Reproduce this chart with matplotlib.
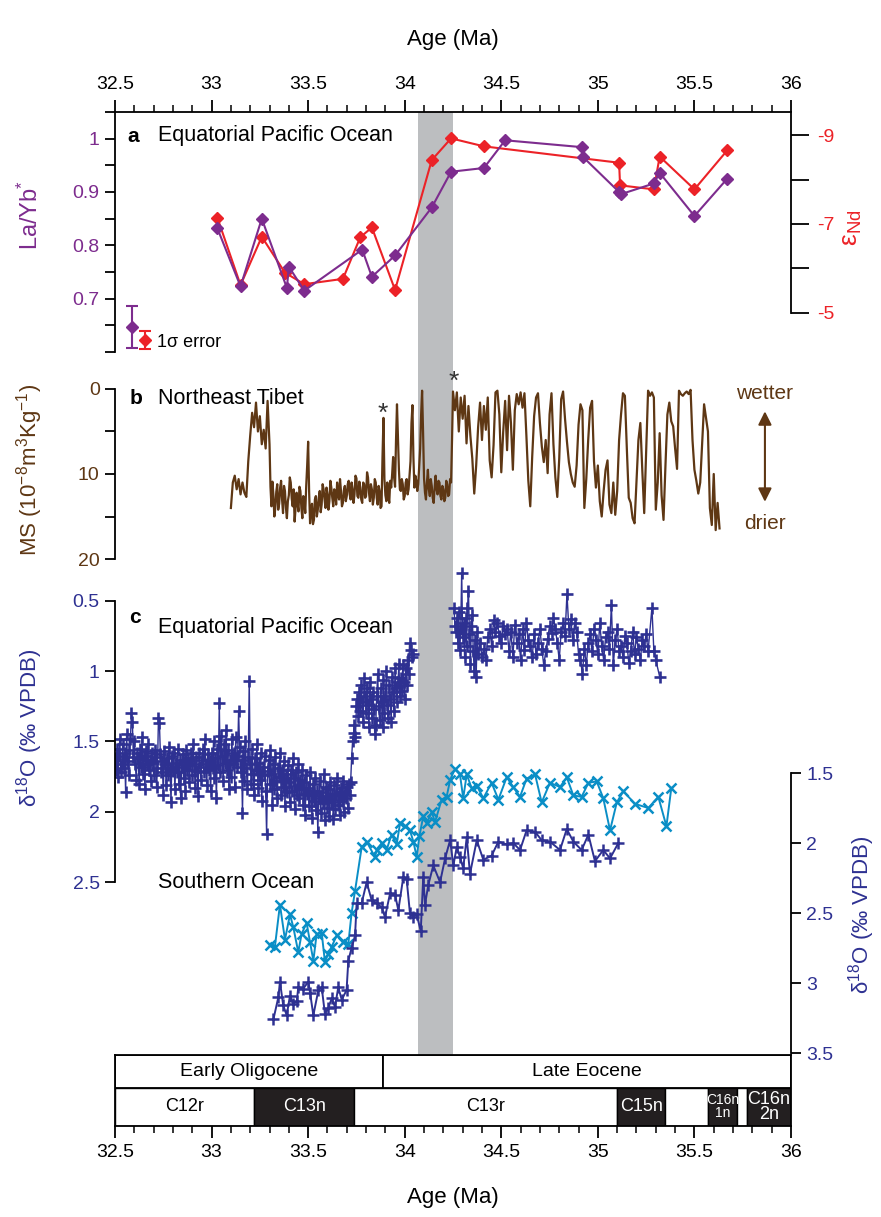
import numpy as np
import matplotlib.pyplot as plt
from matplotlib.patches import Rectangle

plt.rcParams['font.family'] = ['Liberation Sans', 'DejaVu Sans']
plt.rcParams['mathtext.fontset'] = 'custom'
plt.rcParams['mathtext.rm'] = 'Liberation Sans'
plt.rcParams['mathtext.it'] = 'Liberation Sans:italic'
plt.rcParams['axes.linewidth'] = 1.3

PURPLE = '#7d2c8e'
RED = '#ec2227'
BROWN = '#5e3714'
NAVY = '#2e3192'
CYAN = '#0a8ec6'
GREY = '#bcbec0'

# ---- a: Equatorial Pacific, La/Yb* and eNd
layb_age = [33.03, 33.15, 33.26, 33.39, 33.40, 33.48, 33.78, 33.83, 33.95, 34.14, 34.24,
            34.41, 34.52, 34.92, 34.925, 35.11, 35.12, 35.29, 35.32, 35.50, 35.67]
layb = [0.832, 0.723, 0.850, 0.720, 0.760, 0.715, 0.792, 0.741, 0.781, 0.871, 0.938,
        0.945, 0.997, 0.984, 0.965, 0.900, 0.896, 0.916, 0.936, 0.855, 0.925]
end_age = [33.03, 33.15, 33.26, 33.38, 33.48, 33.68, 33.77, 33.83, 33.95, 34.14, 34.24,
           34.41, 35.11, 35.115, 35.29, 35.32, 35.50, 35.67]
end_val = [-7.14, -5.62, -6.71, -5.90, -5.64, -5.76, -6.70, -6.92, -5.51, -8.44, -8.93,
           -8.75, -8.38, -7.87, -7.78, -8.52, -7.78, -8.66]
err_age = [32.586, 32.655]
err_val = [0.647, -4.38]
err_sd = [0.04, 0.2]

# ---- b: Northeast Tibet magnetic susceptibility
ms_age = [
    33.10, 33.11, 33.12, 33.13, 33.14, 33.15, 33.16, 33.17, 33.18, 33.19,
    33.20, 33.21, 33.22, 33.23, 33.24, 33.25, 33.26, 33.27, 33.28, 33.29,
    33.300, 33.305, 33.310, 33.315, 33.320, 33.325, 33.330, 33.335, 33.340, 33.345,
    33.350, 33.355, 33.360, 33.365, 33.370, 33.375, 33.380, 33.385, 33.390, 33.395,
    33.400, 33.405, 33.410, 33.415, 33.420, 33.425, 33.430, 33.435, 33.440, 33.445,
    33.450, 33.455, 33.460, 33.465, 33.470, 33.475, 33.480, 33.485, 33.490, 33.495,
    33.500, 33.505, 33.510, 33.515, 33.520, 33.525, 33.530, 33.535, 33.540, 33.545,
    33.550, 33.555, 33.560, 33.565, 33.570, 33.575, 33.580, 33.585, 33.590, 33.595,
    33.600, 33.605, 33.610, 33.615, 33.620, 33.625, 33.630, 33.635, 33.640, 33.645,
    33.650, 33.655, 33.660, 33.665, 33.670, 33.675, 33.680, 33.685, 33.690, 33.695,
    33.700, 33.705, 33.710, 33.715, 33.720, 33.725, 33.730, 33.735, 33.740, 33.745,
    33.750, 33.755, 33.760, 33.765, 33.770, 33.775, 33.780, 33.785, 33.790, 33.795,
    33.800, 33.805, 33.810, 33.815, 33.820, 33.825, 33.830, 33.835, 33.840, 33.845,
    33.850, 33.855, 33.860, 33.865, 33.870, 33.875, 33.880, 33.885, 33.890, 33.895,
    33.900, 33.905, 33.910, 33.915, 33.920, 33.925, 33.930, 33.935, 33.940, 33.945,
    33.950, 33.955, 33.960, 33.965, 33.970, 33.975, 33.980, 33.985, 33.990, 33.995,
    34.000, 34.005, 34.010, 34.015, 34.020, 34.025, 34.030, 34.035, 34.040, 34.045,
    34.050, 34.055, 34.060, 34.065, 34.070, 34.075, 34.080, 34.085, 34.090, 34.095,
    34.100, 34.105, 34.110, 34.115, 34.120, 34.125, 34.130, 34.135, 34.140, 34.145,
    34.150, 34.155, 34.160, 34.165, 34.170, 34.175, 34.180, 34.185, 34.190, 34.195,
    34.200, 34.205, 34.210, 34.215, 34.220, 34.225, 34.230, 34.235, 34.240, 34.245,
    34.25, 34.26, 34.27, 34.28, 34.29,
    34.30, 34.31, 34.32, 34.33, 34.34, 34.35, 34.36, 34.37, 34.38, 34.39,
    34.40, 34.41, 34.42, 34.43, 34.44, 34.45, 34.46, 34.47, 34.48, 34.49,
    34.50, 34.51, 34.52, 34.53, 34.54, 34.55, 34.56, 34.57, 34.58, 34.59,
    34.60, 34.61, 34.62, 34.63, 34.64, 34.65, 34.66, 34.67, 34.68, 34.69,
    34.70, 34.71, 34.72, 34.73, 34.74, 34.75, 34.76, 34.77, 34.78, 34.79,
    34.80, 34.81, 34.82, 34.83, 34.84, 34.85, 34.86, 34.87, 34.88, 34.89,
    34.90, 34.91, 34.92, 34.93, 34.94, 34.95, 34.96, 34.97, 34.98, 34.99,
    35.00, 35.01, 35.02, 35.03, 35.04, 35.05, 35.06, 35.07, 35.08, 35.09,
    35.10, 35.11, 35.12, 35.13, 35.14, 35.15, 35.16, 35.17, 35.18, 35.19,
    35.20, 35.21, 35.22, 35.23, 35.24, 35.25, 35.26, 35.27, 35.28, 35.29,
    35.30, 35.31, 35.32, 35.33, 35.34, 35.35, 35.36, 35.37, 35.38, 35.39,
    35.40, 35.41, 35.42, 35.43, 35.44, 35.45, 35.46, 35.47, 35.48, 35.49,
    35.50, 35.51, 35.52, 35.53, 35.54, 35.55, 35.56, 35.57, 35.58, 35.59,
    35.60, 35.61, 35.62, 35.63]
ms_val = [
    14.0, 11.0, 10.2, 11.8, 10.6, 12.4, 11.0, 12.2, 12.7, 8.5,
    5.5, 2.8, 4.5, 1.6, 5.0, 3.2, 6.5, 4.8, 7.0, 1.4,
    6.5, 11.5, 13.8, 10.9, 12.4, 15.0, 14.0, 12.1, 11.2, 14.2,
    13.5, 11.6, 10.8, 13.0, 14.6, 11.4, 12.0, 14.0, 15.2, 13.2,
    12.5, 10.4, 11.0, 12.9, 13.8, 11.8, 15.6, 14.0, 12.2, 13.5,
    14.4, 11.5, 12.0, 14.0, 15.2, 12.6, 13.0, 14.6, 11.4, 9.0,
    6.2, 12.0, 15.8, 14.2, 13.5, 15.9, 15.4, 13.0, 12.6, 15.0,
    14.2, 12.8, 12.0, 14.5, 13.6, 11.2, 11.8, 13.0, 14.0, 11.6,
    12.4, 14.2, 13.2, 10.8, 11.6, 12.8, 13.8, 11.8, 12.2, 13.6,
    11.0, 12.4, 13.0, 10.6, 12.0, 13.8, 13.4, 11.9, 11.4, 13.2,
    12.6, 11.2, 10.8, 12.4, 13.0, 11.0, 11.8, 13.4, 12.4, 10.2,
    10.5, 12.6, 12.8, 10.9, 11.6, 13.0, 13.4, 11.0, 11.2, 12.8,
    12.6, 9.8, 10.4, 12.2, 13.2, 11.2, 11.8, 13.6, 12.8, 10.6,
    11.0, 12.8, 13.6, 11.4, 12.0, 14.0, 13.8, 8.0, 3.4, 10.6,
    12.5, 13.2, 11.0, 12.6, 13.4, 10.8, 11.6, 10.0, 8.0, 10.4,
    11.5, 6.0, 1.8, 5.5, 9.5, 11.8, 12.0, 10.6, 11.2, 13.0,
    12.6, 11.0, 10.6, 12.4, 11.8, 10.2, 8.5, 4.0, 1.9, 8.0,
    11.6, 10.2, 10.8, 12.0, 11.2, 9.0, 7.0, 3.0, 0.2, 5.0,
    10.5, 12.2, 13.0, 11.0, 9.5, 11.8, 12.6, 10.6, 11.4, 12.8,
    13.4, 11.6, 10.2, 11.8, 12.4, 10.8, 11.0, 12.6, 13.0, 11.4,
    11.8, 13.2, 12.8, 10.8, 11.2, 12.6, 12.4, 10.6, 11.0, 6.0,
    0.3, 2.5, 0.4, 5.0, 1.0,
    3.5, 0.8, 6.4, 2.0, 5.5, 8.2, 12.3, 9.0, 4.5, 1.6,
    6.0, 2.0, 4.8, 1.0, 8.4, 10.4, 6.6, 0.4, 0.2, 3.0,
    9.8, 5.0, 1.4, 7.2, 0.8, 4.0, 9.5, 2.5, 0.6, 1.8,
    0.4, 2.2, 0.5, 5.5, 10.8, 13.8, 8.0, 3.2, 1.0, 0.5,
    4.0, 6.8, 8.6, 6.0, 9.9, 3.0, 0.5, 6.5, 10.4, 12.7,
    8.2, 1.2, 0.3, 3.5, 6.2, 8.6, 10.0, 11.0, 11.5, 9.0,
    4.2, 1.8, 2.5, 14.0, 10.6, 6.0, 2.2, 1.4, 8.5, 11.6,
    9.0, 13.2, 15.0, 12.0, 9.5, 8.4, 13.6, 14.6, 11.0, 14.8,
    12.0, 6.0, 3.0, 0.5, 0.8, 7.0, 12.8, 13.4, 15.2, 15.8,
    11.0, 6.0, 4.0, 9.5, 14.6, 7.5, 0.2, 0.8, 0.4, 1.0,
    14.2, 11.0, 5.2, 12.5, 15.4, 9.0, 3.0, 1.6, 3.8, 4.4,
    7.0, 9.4, 0.2, 0.6, 0.8, 0.5, 0.3, 0.6, 0.1, 6.0,
    9.5, 10.8, 12.3, 11.0, 6.5, 1.8, 3.4, 5.0, 14.0, 16.0,
    10.0, 16.6, 13.4, 16.4]

# ---- c: d18O, Equatorial Pacific (left axis), Oligocene + latest Eocene part
eqp1_age = [
    32.500, 32.505, 32.510, 32.515, 32.520, 32.525, 32.530, 32.535, 32.540, 32.545,
    32.550, 32.555, 32.560, 32.565, 32.570, 32.575, 32.580, 32.585, 32.590, 32.595,
    32.600, 32.605, 32.610, 32.615, 32.620, 32.625, 32.630, 32.635, 32.640, 32.645,
    32.650, 32.655, 32.660, 32.665, 32.670, 32.675, 32.680, 32.685, 32.690, 32.695,
    32.700, 32.705, 32.710, 32.715, 32.720, 32.725, 32.730, 32.735, 32.740, 32.745,
    32.750, 32.755, 32.760, 32.765, 32.770, 32.775, 32.780, 32.785, 32.790, 32.795,
    32.800, 32.805, 32.810, 32.815, 32.820, 32.825, 32.830, 32.835, 32.840, 32.845,
    32.850, 32.855, 32.860, 32.865, 32.870, 32.875, 32.880, 32.885, 32.890, 32.895,
    32.900, 32.905, 32.910, 32.915, 32.920, 32.925, 32.930, 32.935, 32.940, 32.945,
    32.950, 32.955, 32.960, 32.965, 32.970, 32.975, 32.980, 32.985, 32.990, 32.995,
    33.000, 33.005, 33.010, 33.015, 33.020, 33.025, 33.030, 33.035, 33.040, 33.045,
    33.050, 33.055, 33.060, 33.065, 33.070, 33.075, 33.080, 33.085, 33.090, 33.095,
    33.100, 33.105, 33.110, 33.115, 33.120, 33.125, 33.130, 33.135, 33.140, 33.145,
    33.150, 33.155, 33.160, 33.165, 33.170, 33.175, 33.180, 33.185, 33.190, 33.195,
    33.200, 33.205, 33.210, 33.215, 33.220, 33.225, 33.230, 33.235, 33.240, 33.245,
    33.250, 33.255, 33.260, 33.265, 33.270, 33.275, 33.280, 33.285, 33.290, 33.295,
    33.300, 33.305, 33.310, 33.315, 33.320, 33.325, 33.330, 33.335, 33.340, 33.345,
    33.350, 33.355, 33.360, 33.365, 33.370, 33.375, 33.380, 33.385, 33.390, 33.395,
    33.400, 33.405, 33.410, 33.415, 33.420, 33.425, 33.430, 33.435, 33.440, 33.445,
    33.450, 33.455, 33.460, 33.465, 33.470, 33.475, 33.480, 33.485, 33.490, 33.495,
    33.500, 33.505, 33.510, 33.515, 33.520, 33.525, 33.530, 33.535, 33.540, 33.545,
    33.550, 33.555, 33.560, 33.565, 33.570, 33.575, 33.580, 33.585, 33.590, 33.595,
    33.600, 33.605, 33.610, 33.615, 33.620, 33.625, 33.630, 33.635, 33.640, 33.645,
    33.650, 33.655, 33.660, 33.665, 33.670, 33.675, 33.680, 33.685, 33.690, 33.695,
    33.700, 33.705, 33.710, 33.715, 33.720,
    33.725, 33.730, 33.735, 33.740, 33.745, 33.750, 33.755, 33.760, 33.765, 33.770,
    33.775, 33.780, 33.785, 33.790, 33.795, 33.800, 33.805, 33.810, 33.815, 33.820,
    33.825, 33.830, 33.835, 33.840, 33.845, 33.850, 33.855, 33.860, 33.865, 33.870,
    33.875, 33.880, 33.885, 33.890, 33.895, 33.900, 33.905, 33.910, 33.915, 33.920,
    33.925, 33.930, 33.935, 33.940, 33.945, 33.950, 33.955, 33.960, 33.965, 33.970,
    33.975, 33.980, 33.985, 33.990, 33.995, 34.000, 34.005, 34.010, 34.015, 34.020,
    34.025, 34.030, 34.040, 34.045]
eqp1 = [
    1.62, 1.70, 1.55, 1.75, 1.60, 1.48, 1.72, 1.66, 1.52, 1.69,
    1.58, 1.86, 1.45, 1.64, 1.74, 1.56, 1.48, 1.30, 1.36, 1.61,
    1.50, 1.66, 1.77, 1.58, 1.62, 1.80, 1.55, 1.68, 1.47, 1.73,
    1.60, 1.84, 1.57, 1.66, 1.52, 1.70, 1.63, 1.78, 1.58, 1.65,
    1.74, 1.56, 1.61, 1.82, 1.69, 1.33, 1.37, 1.59, 1.72, 1.64,
    1.88, 1.57, 1.66, 1.81, 1.62, 1.74, 1.54, 1.69, 1.93, 1.60,
    1.71, 1.58, 1.84, 1.65, 1.72, 1.55, 1.80, 1.63, 1.90, 1.68,
    1.59, 1.76, 1.64, 1.85, 1.56, 1.70, 1.62, 1.79, 1.67, 1.58,
    1.74, 1.52, 1.66, 1.83, 1.61, 1.71, 1.89, 1.58, 1.68, 1.77,
    1.63, 1.55, 1.72, 1.48, 1.66, 1.81, 1.59, 1.70, 1.64, 1.85,
    1.58, 1.69, 1.50, 1.76, 1.62, 1.90, 1.55, 1.67, 1.23, 1.72,
    1.46, 1.60, 1.78, 1.52, 1.65, 1.42, 1.70, 1.56, 1.84, 1.63,
    1.75, 1.48, 1.66, 1.58, 1.82, 1.47, 1.68, 1.60, 1.28, 1.54,
    1.72, 1.63, 2.01, 1.57, 1.78, 1.50, 1.69, 1.84, 1.61, 1.07,
    1.66, 1.80, 1.55, 1.73, 1.88, 1.62, 1.70, 1.52, 1.83, 1.65,
    1.77, 1.58, 1.92, 1.68, 1.74, 1.60, 1.85, 2.16, 1.71, 1.63,
    1.80, 1.56, 1.73, 1.95, 1.66, 1.84, 1.61, 1.78, 1.90, 1.69,
    1.75, 1.58, 1.88, 1.70, 1.82, 1.64, 1.96, 1.73, 1.86, 1.67,
    1.79, 1.93, 1.70, 1.85, 1.62, 1.76, 1.98, 1.72, 1.88, 1.81,
    1.66, 1.90, 1.77, 1.84, 1.70, 1.95, 1.79, 2.02, 1.74, 1.87,
    1.83, 1.96, 1.72, 1.88, 2.04, 1.80, 1.92, 1.76, 1.99, 1.85,
    2.14, 1.90, 1.78, 2.01, 1.86, 1.94, 1.73, 2.06, 1.89, 1.82,
    1.97, 1.84, 2.03, 1.79, 1.93, 1.87, 2.05, 1.81, 1.98, 1.88,
    1.76, 1.95, 1.86, 2.02, 1.83, 1.92, 1.78, 2.00, 1.85, 1.90,
    1.82, 1.97, 1.80, 1.88, 1.79,
    1.62, 1.50, 1.44, 1.38, 1.47, 1.25, 1.20, 1.32, 1.15, 1.28,
    1.10, 1.22, 1.36, 1.05, 1.18, 1.30, 1.12, 1.24, 1.40, 1.08,
    1.20, 1.33, 1.15, 1.27, 1.45, 1.38, 1.18, 1.02, 1.25, 1.35,
    1.12, 1.22, 1.40, 1.06, 1.30, 1.18, 1.00, 1.24, 1.33, 1.10,
    1.20, 1.36, 1.04, 1.15, 1.28, 0.98, 1.12, 1.22, 1.08, 0.95,
    1.18, 1.05, 1.14, 0.96, 1.08, 1.20, 0.98, 1.10, 0.92, 1.02,
    0.80, 0.85, 0.90, 0.88]

# Equatorial Pacific, late Eocene part
eqp2_age = [
    34.255, 34.260, 34.265, 34.270, 34.275, 34.280, 34.285, 34.290, 34.295, 34.300,
    34.305, 34.310, 34.315, 34.320, 34.325, 34.330, 34.335, 34.340, 34.345, 34.350,
    34.355, 34.360, 34.365, 34.370, 34.375,
    34.38, 34.39, 34.40, 34.41, 34.42, 34.43, 34.44, 34.45, 34.46, 34.47,
    34.48, 34.49, 34.50, 34.51, 34.52, 34.53, 34.54, 34.55, 34.56, 34.57,
    34.58, 34.59, 34.60, 34.61, 34.62, 34.63, 34.64, 34.65, 34.66, 34.67,
    34.68, 34.69, 34.70, 34.71, 34.72, 34.73, 34.74, 34.75, 34.76, 34.77,
    34.78, 34.79, 34.80, 34.81, 34.82, 34.83, 34.84, 34.85, 34.86, 34.87,
    34.88, 34.89, 34.90, 34.91, 34.92, 34.93, 34.94, 34.95, 34.96, 34.97,
    34.98, 34.99, 35.00, 35.01, 35.02, 35.03, 35.04, 35.05, 35.06, 35.07,
    35.08, 35.09, 35.10, 35.11, 35.12, 35.13, 35.14, 35.15, 35.16, 35.17,
    35.18, 35.19, 35.20, 35.21, 35.22, 35.23, 35.24, 35.25, 35.26,
    35.28, 35.29, 35.30, 35.32]
eqp2 = [
    0.55, 0.68, 0.72, 0.62, 0.80, 0.58, 0.85, 0.70, 0.30, 0.76,
    0.66, 0.90, 0.62, 0.82, 0.55, 0.43, 0.74, 0.95, 0.68, 0.60,
    0.86, 1.00, 0.78, 1.04, 0.72,
    0.88, 0.80, 0.90, 0.84, 0.92, 0.76, 0.70, 0.82, 0.64, 0.72,
    0.66, 0.75, 0.80, 0.68, 0.74, 0.70, 0.86, 0.72, 0.90, 0.67,
    0.80, 0.74, 0.92, 0.70, 0.85, 0.66, 0.78, 0.82, 0.90, 0.74,
    0.88, 0.80, 0.70, 0.84, 0.96, 0.86, 0.77, 0.68, 0.73, 0.62,
    0.70, 0.80, 0.92, 0.72, 0.66, 0.75, 0.45, 0.70, 0.63, 0.78,
    0.66, 0.72, 0.88, 0.92, 1.02, 0.84, 0.96, 0.80, 0.74, 0.86,
    0.70, 0.78, 0.88, 0.66, 0.82, 0.92, 0.76, 0.72, 0.84, 0.53,
    0.96, 0.78, 0.70, 0.86, 0.82, 0.90, 0.75, 0.80, 0.94, 0.86,
    0.72, 0.88, 0.76, 0.84, 0.92, 0.78, 0.82, 0.74, 0.86,
    0.55, 0.86, 0.92, 1.04]

# Southern Ocean (right axis): light blue crosses
soc_age = [33.302, 33.328, 33.354, 33.380, 33.406, 33.423, 33.449, 33.466, 33.492, 33.510,
           33.527, 33.544, 33.570, 33.587, 33.604, 33.622, 33.648, 33.682, 33.708, 33.725,
           33.743, 33.777, 33.803, 33.846, 33.855, 33.881, 33.906, 33.932, 33.958, 33.976,
           34.001, 34.027, 34.045, 34.062, 34.076, 34.096, 34.114, 34.140, 34.157, 34.191,
           34.217, 34.235, 34.260, 34.286, 34.303, 34.321, 34.347, 34.373, 34.407, 34.450,
           34.485, 34.528, 34.562, 34.597, 34.631, 34.675, 34.709, 34.752, 34.804, 34.839,
           34.873, 34.916, 34.951, 34.994, 35.028, 35.063, 35.098, 35.132, 35.192, 35.261,
           35.313, 35.355, 35.380]
soc = [2.73, 2.74, 2.44, 2.69, 2.51, 2.60, 2.78, 2.65, 2.57, 2.71,
       2.84, 2.65, 2.64, 2.85, 2.79, 2.74, 2.66, 2.71, 2.72, 2.50,
       2.34, 2.03, 1.99, 2.10, 2.05, 2.00, 2.05, 1.94, 2.01, 1.86,
       1.88, 1.91, 1.99, 2.10, 1.95, 1.81, 1.86, 1.78, 1.85, 1.69,
       1.67, 1.55, 1.47, 1.51, 1.68, 1.51, 1.61, 1.59, 1.68, 1.57,
       1.69, 1.53, 1.60, 1.67, 1.54, 1.51, 1.71, 1.57, 1.60, 1.53,
       1.66, 1.67, 1.57, 1.56, 1.68, 1.91, 1.71, 1.63, 1.72, 1.75,
       1.67, 1.88, 1.61]

# Southern Ocean (right axis): navy plus signs
son_age = [33.320, 33.346, 33.354, 33.371, 33.389, 33.406, 33.423, 33.441, 33.449, 33.475,
           33.501, 33.510, 33.527, 33.553, 33.570, 33.587, 33.604, 33.622, 33.639, 33.656,
           33.674, 33.699, 33.708, 33.725, 33.743, 33.751, 33.777, 33.803, 33.829, 33.855,
           33.881, 33.898, 33.924, 33.950, 33.967, 33.993, 34.010, 34.027, 34.045, 34.062,
           34.083, 34.096, 34.105, 34.122, 34.148, 34.183, 34.209, 34.235, 34.252, 34.269,
           34.286, 34.303, 34.321, 34.338, 34.373, 34.407, 34.450, 34.485, 34.528, 34.562,
           34.597, 34.631, 34.675, 34.709, 34.752, 34.804, 34.839, 34.873, 34.916, 34.951,
           34.985, 35.028, 35.063, 35.106]
son = [3.26, 3.10, 2.99, 3.16, 3.23, 3.09, 3.15, 3.13, 3.03, 3.04,
       2.99, 3.07, 3.23, 3.05, 3.03, 3.22, 3.18, 3.11, 3.17, 3.03,
       3.12, 3.05, 2.84, 2.75, 2.66, 2.43, 2.43, 2.28, 2.41, 2.43,
       2.46, 2.53, 2.36, 2.37, 2.48, 2.24, 2.26, 2.50, 2.53, 2.51,
       2.63, 2.24, 2.44, 2.30, 2.16, 2.28, 2.11, 1.98, 2.16, 2.03,
       2.10, 2.18, 1.96, 2.22, 1.98, 2.12, 2.09, 1.99, 2.01, 2.00,
       2.05, 1.91, 1.92, 1.98, 1.99, 2.05, 1.90, 1.99, 2.05, 1.94,
       2.13, 2.05, 2.11, 2.00]

# ---- timescale
epoch_edges = [32.5, 33.89, 36.0]
epoch_names = ['Early Oligocene', 'Late Eocene']
chron_edges = [32.5, 33.22, 33.74, 35.10, 35.35, 35.57, 35.72, 35.77, 36.0]
chron_names = ['C12r', 'C13n', 'C13r', 'C15n', '', 'C16n\n1n', '', 'C16n\n2n']
chron_black = [False, True, False, True, False, True, False, True]
eot_band = (34.07, 34.25)

W, H = 881, 1217
X0, X1 = 115, 791
TOP = 112
XL = (32.5, 36.0)


def box(x0, y0, x1, y1):
    return [x0 / W, 1 - y1 / H, (x1 - x0) / W, (y1 - y0) / H]


def ftext(x, y, s, **kw):
    fig.text(x / W, 1 - y / H, s, **kw)


fig = plt.figure(figsize=(W / 100, H / 100), dpi=100)

# grey band behind everything
bg = fig.add_axes(box(X0, TOP, X1, 1055))
bg.set_xlim(XL)
bg.axis('off')
bg.axvspan(*eot_band, color=GREY, lw=0)

major = np.arange(32.5, 36.01, 0.5)
minor = np.arange(32.5, 36.01, 0.1)
major_lbl = ['32.5', '33', '33.5', '34', '34.5', '35', '35.5', '36']

# ---------------- panel a
ax = fig.add_axes(box(X0, TOP, X1, 352))
axr = ax.twinx()
ax.set_zorder(axr.get_zorder() + 1)
ax.patch.set_visible(False)
axr.patch.set_visible(False)

ax.set_xlim(XL)
ax.set_ylim(0.6, 1.05)
ax.spines['bottom'].set_visible(False)
ax.spines['right'].set_visible(False)
ax.xaxis.tick_top()
ax.set_xticks(major)
ax.set_xticklabels(major_lbl)
ax.set_xticks(minor, minor=True)
ax.tick_params(axis='x', which='major', length=8.5, width=1.3, labelsize=14, pad=5)
ax.tick_params(axis='x', which='minor', length=5, width=1.1)
ax.set_yticks(np.arange(0.6, 1.051, 0.05))
ax.set_yticklabels(['', '', '0.7', '', '0.8', '', '0.9', '', '1', ''])
ax.tick_params(axis='y', length=7.5, width=1.3, labelsize=14, labelcolor=PURPLE)
ax.plot(layb_age, layb, color=PURPLE, lw=1.5, marker='D', ms=6)
ax.errorbar(err_age[:1], err_val[:1], yerr=err_sd[:1], color=PURPLE, marker='D', ms=6,
            capsize=4, lw=1.5, capthick=1.5)

axr.set_xlim(XL)
axr.set_ylim(-4.11, -9.525)
for s in ['left', 'bottom', 'top']:
    axr.spines[s].set_visible(False)
axr.spines['right'].set_bounds(-9.525, -5)
axr.set_yticks([-9, -8, -7, -6, -5])
axr.set_yticklabels(['-9', '', '-7', '', '-5'])
axr.tick_params(axis='y', length=13, width=1.3, labelsize=14, labelcolor=RED, pad=6)
axr.plot(end_age, end_val, color=RED, lw=1.5, marker='D', ms=6)
axr.errorbar(err_age[1:], err_val[1:], yerr=err_sd[1:], color=RED, marker='D', ms=6,
             capsize=4, lw=1.5, capthick=1.5)

ftext(127, 136, 'a', fontsize=15, fontweight='bold', va='center')
ftext(158, 136, 'Equatorial Pacific Ocean', fontsize=15.5, va='center')
ftext(157, 343, '1σ error', fontsize=13, va='center')
ftext(30, 215, 'La/Yb$^{*}$', fontsize=17, color=PURPLE, rotation=90, ha='center', va='center')
ftext(852, 228, 'ε$_{\\mathregular{Nd}}$', fontsize=19, color=RED, rotation=90, ha='center', va='center')

# ---------------- panel b
axb = fig.add_axes(box(X0, 365, X1, 575))
axb.patch.set_visible(False)
axb.set_xlim(XL)
axb.set_ylim(21.88, -2.82)
for s in ['top', 'right', 'bottom']:
    axb.spines[s].set_visible(False)
axb.spines['left'].set_bounds(0, 20)
axb.set_xticks([])
axb.set_yticks([0, 5, 10, 15, 20])
axb.set_yticklabels(['0', '', '10', '', '20'])
axb.tick_params(axis='y', length=7.5, width=1.3, labelsize=14, labelcolor=BROWN)
axb.plot(ms_age, ms_val, color=BROWN, lw=1.6)
axb.text(33.886, 2.9, '*', fontsize=19, color='#333333', ha='center', va='center')
axb.text(34.255, -0.8, '*', fontsize=19, color='#333333', ha='center', va='center')
axb.text(35.865, 0.5, 'wetter', fontsize=15, color=BROWN, ha='center', va='center')
axb.text(35.865, 15.8, 'drier', fontsize=15, color=BROWN, ha='center', va='center')
axb.annotate('', xy=(35.865, 2.3), xytext=(35.865, 13.6),
             arrowprops=dict(arrowstyle='<|-|>', color=BROWN, lw=1.5, mutation_scale=20))

ftext(130, 398, 'b', fontsize=15, fontweight='bold', va='center')
ftext(158, 398, 'Northeast Tibet', fontsize=15.5, va='center')
ftext(30, 470, 'MS (10$^{-8}$m$^{3}$Kg$^{-1}$)', fontsize=16, color=BROWN, rotation=90,
      ha='center', va='center')

# ---------------- panel c
axc = fig.add_axes(box(X0, 565, X1, 1055))
axs = axc.twinx()
axc.set_zorder(axs.get_zorder() + 1)
axc.patch.set_visible(False)
axs.patch.set_visible(False)

axc.set_xlim(XL)
axc.set_ylim(3.7266, 0.2465)
for s in ['top', 'right', 'bottom']:
    axc.spines[s].set_visible(False)
axc.spines['left'].set_bounds(0.5, 2.5)
axc.set_xticks([])
axc.set_yticks([0.5, 1, 1.5, 2, 2.5])
axc.set_yticklabels(['0.5', '1', '1.5', '2', '2.5'])
axc.tick_params(axis='y', length=7.5, width=1.3, labelsize=14, labelcolor=NAVY)
axc.plot(eqp1_age, eqp1, color=NAVY, lw=1.0, marker='+', ms=8, mew=1.9)
axc.plot(eqp2_age, eqp2, color=NAVY, lw=1.0, marker='+', ms=8, mew=1.9)

axs.set_xlim(XL)
axs.set_ylim(3.514, 0.0143)
for s in ['top', 'left', 'bottom']:
    axs.spines[s].set_visible(False)
axs.spines['right'].set_bounds(1.5, 3.5)
axs.set_yticks([1.5, 2, 2.5, 3, 3.5])
axs.set_yticklabels(['1.5', '2', '2.5', '3', '3.5'])
axs.tick_params(axis='y', length=7.5, width=1.3, labelsize=14, labelcolor=NAVY)
axs.plot(soc_age, soc, color=CYAN, lw=1.4, marker='x', ms=7.5, mew=1.8)
axs.plot(son_age, son, color=NAVY, lw=1.4, marker='+', ms=9, mew=1.8)

ftext(129, 617, 'c', fontsize=15, fontweight='bold', va='center')
ftext(158, 627, 'Equatorial Pacific Ocean', fontsize=15.5, va='center')
ftext(158, 882, 'Southern Ocean', fontsize=15.5, va='center')
ftext(30, 728, 'δ$^{18}$O (‰ VPDB)', fontsize=16, color=NAVY, rotation=90, ha='center', va='center')
ftext(862, 915, 'δ$^{18}$O (‰ VPDB)', fontsize=16, color=NAVY, rotation=90, ha='center', va='center')

# ---------------- timescale
axt = fig.add_axes(box(X0, 1055.3, X1, 1125.7))
axt.set_xlim(XL)
axt.set_ylim(0, 70.4)
axt.set_yticks([])
for i, name in enumerate(epoch_names):
    l, r = epoch_edges[i], epoch_edges[i + 1]
    axt.add_patch(Rectangle((l, 37.7), r - l, 32.7, fc='white', ec='black', lw=1.3))
    axt.text((l + r) / 2, 54, name, fontsize=14, ha='center', va='center')
for i, name in enumerate(chron_names):
    l, r = chron_edges[i], chron_edges[i + 1]
    blk = chron_black[i]
    axt.add_patch(Rectangle((l, 0), r - l, 37.7, fc='#231f20' if blk else 'white',
                            ec='black', lw=1.0))
    fs = 10 if '\n' in name and r - l < 0.2 else 13
    axt.text((l + r) / 2, 18.8, name, fontsize=fs, ha='center', va='center',
             color='white' if blk else 'black', linespacing=0.9)
axt.set_xticks(major)
axt.set_xticklabels(major_lbl)
axt.set_xticks(minor, minor=True)
axt.tick_params(axis='x', which='major', length=8.5, width=1.3, labelsize=14, pad=5)
axt.tick_params(axis='x', which='minor', length=5, width=1.1)

ftext(453, TOP - 72, 'Age (Ma)', fontsize=16, ha='center', va='center')
ftext(453, 1197, 'Age (Ma)', fontsize=16, ha='center', va='center')

fig.savefig('out.png', dpi=100)
